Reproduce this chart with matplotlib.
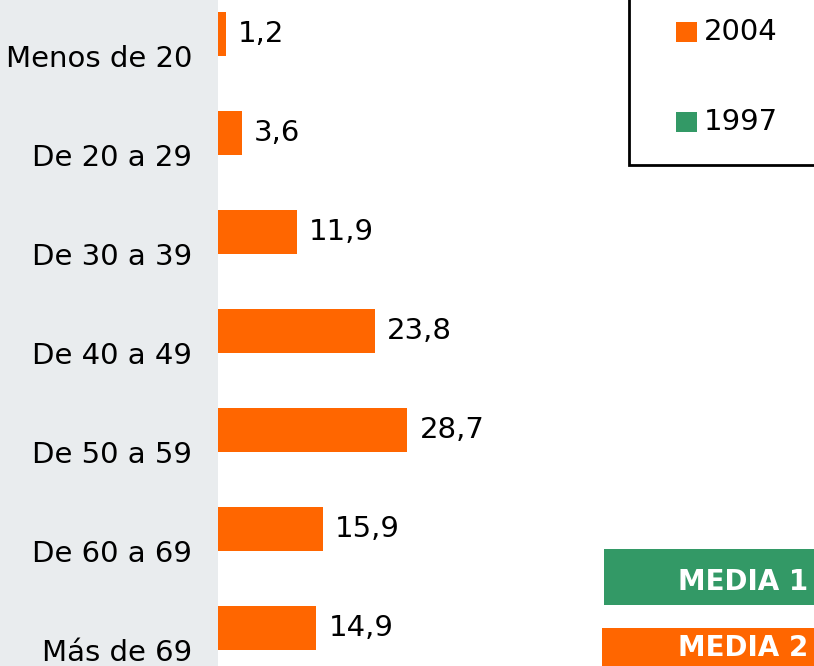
import matplotlib.pyplot as plt
from matplotlib.patches import Rectangle

plt.rcParams['font.family'] = 'DejaVu Sans'

# Data
groups = ['Menos de 20', 'De 20 a 29', 'De 30 a 39', 'De 40 a 49',
          'De 50 a 59', 'De 60 a 69', 'Más de 69']
values_2004 = [1.2, 3.6, 11.9, 23.8, 28.7, 15.9, 14.9]
legend_labels = ['2004', '1997']
media_labels = ['MEDIA 1', 'MEDIA 2']

ORANGE = '#FF6600'
GREEN = '#339966'
PANEL = '#E9ECEE'

W, H = 814, 666
fig = plt.figure(figsize=(W / 100, H / 100), dpi=100)

# grey panel behind the category labels
fig.patches.append(Rectangle((0, 0), 218 / W, 1, transform=fig.transFigure,
                             facecolor=PANEL, edgecolor='none', zorder=-5))

ax = fig.add_axes([218 / W, 0, 1 - 218 / W, 1])
ax.set_facecolor('none')
ax.set_zorder(2)

pos = list(range(len(groups)))
ax.barh(pos, values_2004, height=0.444, color=ORANGE, align='center')
for p, v in zip(pos, values_2004):
    ax.annotate(f'{v:.1f}'.replace('.', ','), (v, p), xytext=(12, 0),
                textcoords='offset pixels', va='center', ha='left',
                fontsize=21)

ax.set_xlim(0, 596 / 6.6)
ax.set_ylim((H - 34) / 99, -34 / 99)
ax.set_yticks([p + 0.22 for p in pos])
ax.set_yticklabels(groups, fontsize=21)
ax.tick_params(axis='y', length=0, pad=18.5)
ax.set_xticks([])
for s in ax.spines.values():
    s.set_visible(False)

# legend box (cut by the top and right edges)
fig.patches.append(Rectangle((629 / W, 1 - 165 / H), 0.5, 0.5,
                             transform=fig.transFigure, facecolor='white',
                             edgecolor='black', linewidth=2, zorder=1))
for lab, col, yc in zip(legend_labels, [ORANGE, GREEN], [32, 122]):
    fig.patches.append(Rectangle((676 / W, 1 - (yc + 10) / H), 21 / W, 20 / H,
                                 transform=fig.transFigure, facecolor=col,
                                 edgecolor='none', zorder=2))
    fig.text(704 / W, 1 - yc / H, lab, fontsize=21, va='center', ha='left')

# media boxes
for lab, col, x0, y0, y1, base in zip(media_labels, [GREEN, ORANGE],
                                      [604, 602], [549, 628], [605, 700],
                                      [590, 656]):
    fig.patches.append(Rectangle((x0 / W, 1 - y1 / H), 0.5, (y1 - y0) / H,
                                 transform=fig.transFigure, facecolor=col,
                                 edgecolor='none', zorder=1))
    fig.text(678 / W, 1 - base / H, lab, fontsize=20, fontweight='bold',
             color='white', va='baseline', ha='left')

fig.savefig('out.png', dpi=100)
